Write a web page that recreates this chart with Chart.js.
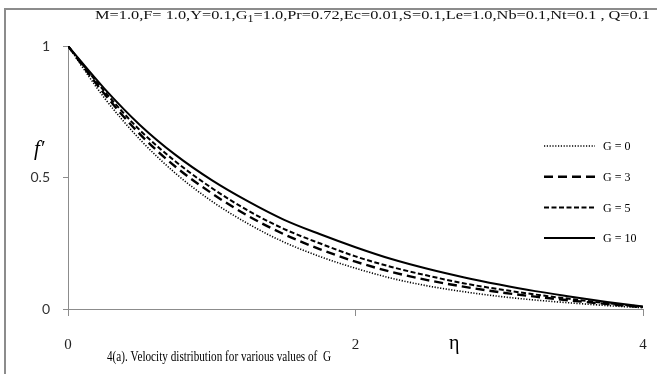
<!DOCTYPE html>
<html>
<head>
<meta charset="utf-8">
<script src="https://cdn.jsdelivr.net/npm/chart.js@4/dist/chart.umd.min.js"></script>
<style>
  html, body { margin: 0; padding: 0; background: #fff; }
  #wrap { width: 657px; height: 374px; position: relative; }
</style>
</head>
<body>
<div id="wrap"><canvas id="c" width="657" height="374"></canvas></div>
<script>
// similarity variable
const eta = [0, 0.25, 0.5, 0.75, 1, 1.25, 1.5, 1.75, 2, 2.25, 2.5, 2.75, 3, 3.25, 3.5, 3.75, 4];
// velocity f' for each G
const fG0  = [1, 0.805, 0.645, 0.515, 0.41, 0.325, 0.255, 0.200, 0.155, 0.117, 0.088, 0.066, 0.048, 0.034, 0.023, 0.013, 0.005];
const fG3  = [1, 0.820, 0.665, 0.540, 0.44, 0.355, 0.285, 0.228, 0.180, 0.141, 0.110, 0.085, 0.064, 0.047, 0.032, 0.019, 0.007];
const fG5  = [1, 0.830, 0.680, 0.560, 0.46, 0.375, 0.305, 0.250, 0.200, 0.160, 0.127, 0.098, 0.075, 0.055, 0.038, 0.022, 0.008];
const fG10 = [1, 0.840, 0.700, 0.585, 0.49, 0.410, 0.340, 0.285, 0.235, 0.190, 0.153, 0.121, 0.093, 0.068, 0.047, 0.027, 0.009];
const seriesLabels = ['G = 0', 'G = 3', 'G = 5', 'G = 10'];
const xTicks = [0, 2, 4];
const yTicks = [0, 0.5, 1];

const styles = [
  { width: 1.6, dash: [1.2, 1.6] },
  { width: 2.4, dash: [9, 5] },
  { width: 2.0, dash: [5, 2.5] },
  { width: 2.0, dash: [] }
];

const series = [fG0, fG3, fG5, fG10];
const datasets = series.map((vals, i) => ({
  label: seriesLabels[i],
  data: eta.map((x, k) => ({ x: x, y: vals[k] })),
  borderColor: '#000',
  borderWidth: styles[i].width,
  borderDash: styles[i].dash,
  pointRadius: 0,
  fill: false,
  cubicInterpolationMode: 'monotone'
}));

const serif = '"Liberation Serif", "Times New Roman", serif';

// frame, captions, axis symbols and the line-style key
const decor = {
  id: 'decor',
  beforeDraw(chart) {
    const ctx = chart.ctx;
    ctx.save();
    ctx.fillStyle = '#fff';
    ctx.fillRect(0, 0, chart.width, chart.height);
    ctx.strokeStyle = '#8c8c8c';
    ctx.lineWidth = 2;
    ctx.strokeRect(5, 9, chart.width + 10, chart.height + 10);
    ctx.restore();
  },
  afterDraw(chart) {
    const ctx = chart.ctx;
    ctx.save();
    ctx.fillStyle = '#000';
    ctx.textBaseline = 'alphabetic';
    ctx.textAlign = 'left';

    // parameter line with subscript
    const parts = [
      { t: 'M=1.0,F= 1.0,Y=0.1,G', sub: false },
      { t: '1', sub: true },
      { t: '=1.0,Pr=0.72,Ec=0.01,S=0.1,Le=1.0,Nb=0.1,Nt=0.1 , Q=0.1', sub: false }
    ];
    const mainFont = '13.5px ' + serif;
    const subFont = '10px ' + serif;
    let total = 0;
    parts.forEach(p => { ctx.font = p.sub ? subFont : mainFont; total += ctx.measureText(p.t).width; });
    const target = 555;
    const sx = target / total;
    ctx.save();
    ctx.fillStyle = '#111';
    ctx.translate(95, 19);
    ctx.scale(sx, 1);
    let x = 0;
    parts.forEach(p => {
      ctx.font = p.sub ? subFont : mainFont;
      ctx.fillText(p.t, x, p.sub ? 3 : 0);
      x += ctx.measureText(p.t).width;
    });
    ctx.restore();

    // f' symbol
    ctx.font = 'italic 21px ' + serif;
    ctx.fillText("f\u2032", 34, 155);

    // eta symbol
    ctx.font = '20px ' + serif;
    ctx.fillText('\u03B7', 449, 349);

    // caption
    ctx.font = '14px ' + serif;
    ctx.fillText('4(a). Velocity distribution for various values of  G', 107, 361, 224);

    // key
    const x0 = 544, x1 = 595, y0 = 146, dy = 30.7;
    chart.data.datasets.forEach((ds, i) => {
      const y = y0 + i * dy;
      ctx.beginPath();
      ctx.setLineDash(ds.borderDash);
      ctx.lineWidth = ds.borderWidth;
      ctx.strokeStyle = ds.borderColor;
      ctx.moveTo(x0, y);
      ctx.lineTo(x1, y);
      ctx.stroke();
      ctx.setLineDash([]);
      ctx.font = '12px ' + serif;
      ctx.textBaseline = 'middle';
      ctx.fillText(ds.label, 603, y + 1);
    });
    ctx.restore();
  }
};

new Chart(document.getElementById('c'), {
  type: 'line',
  data: { datasets: datasets },
  options: {
    responsive: false,
    animation: false,
    layout: { padding: { left: 0, right: 14, top: 46, bottom: 0 } },
    plugins: { legend: { display: false }, tooltip: { enabled: false }, title: { display: false } },
    scales: {
      x: {
        type: 'linear',
        min: 0, max: 4,
        afterBuildTicks: s => { s.ticks = xTicks.map(v => ({ value: v })); },
        afterFit: s => { s.height = 65; s.paddingLeft = 0; s.paddingRight = 0; },
        ticks: { color: '#222', font: { family: serif, size: 15 }, padding: 20, maxRotation: 0, callback: v => String(v) },
        grid: { drawOnChartArea: false, drawTicks: true, tickLength: 7, color: '#8c8c8c', tickColor: '#8c8c8c' },
        border: { color: '#8c8c8c', width: 1 }
      },
      y: {
        min: 0, max: 1,
        afterBuildTicks: s => { s.ticks = yTicks.map(v => ({ value: v })); },
        afterFit: s => { s.width = 68; s.paddingTop = 0; s.paddingBottom = 0; },
        ticks: { color: '#333', font: { family: 'Lato, "Open Sans", sans-serif', size: 14 }, padding: 13, callback: v => String(v) },
        grid: { drawOnChartArea: false, drawTicks: true, tickLength: 5, color: '#8c8c8c', tickColor: '#8c8c8c' },
        border: { color: '#8c8c8c', width: 1 }
      }
    }
  },
  plugins: [decor]
});
</script>
</body>
</html>
